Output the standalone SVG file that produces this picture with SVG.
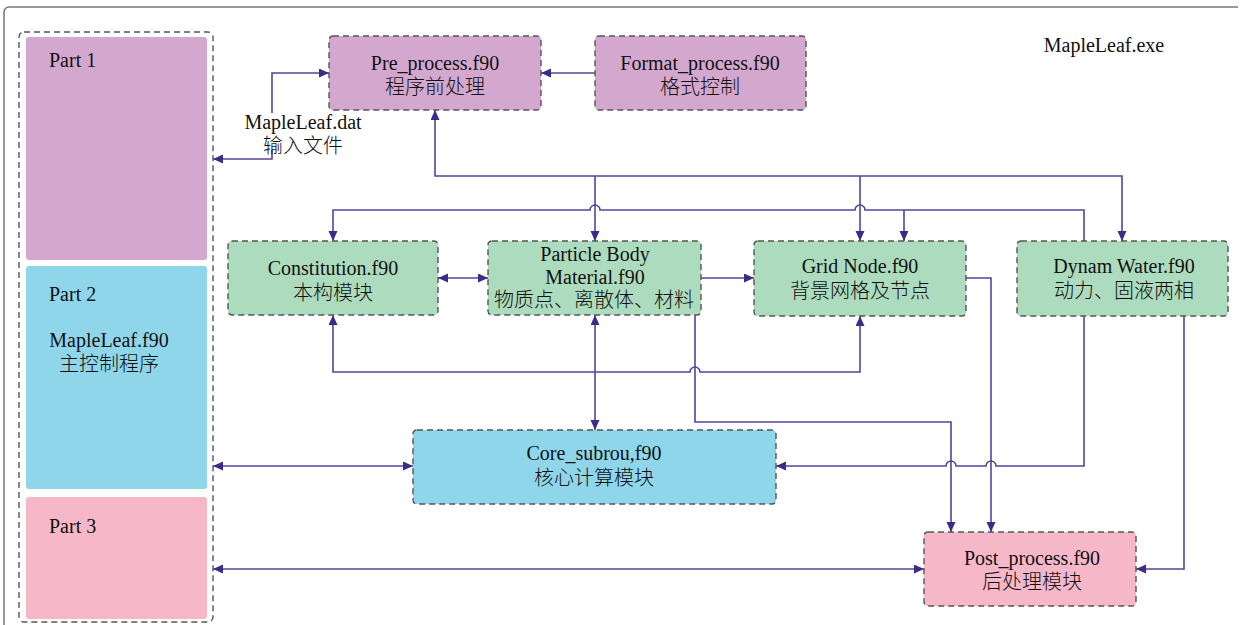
<svg xmlns="http://www.w3.org/2000/svg" width="1244" height="625" viewBox="0 0 1244 625">
<style>
  text { font-family: "Liberation Serif", "Noto Sans CJK SC", serif; font-size: 20px; fill: #111; }
  .c { text-anchor: middle; }
  .cjk { font-size: 20px; font-weight: 300; }
  .node { stroke: #555; stroke-width: 1.4; stroke-dasharray: 6 4; }
  .pur { fill: #D4A8CE; }
  .grn { fill: #ADDBBD; }
  .blu { fill: #8FD6EB; }
  .pnk { fill: #F6B8C9; }
  .ln { fill: none; stroke: #54449C; stroke-width: 1.6; }
</style>
<defs>
  <marker id="ah" markerUnits="userSpaceOnUse" markerWidth="11" markerHeight="10" refX="10" refY="4.5" orient="auto-start-reverse">
    <path d="M0,0 L10,4.5 L0,9 z" fill="#3D2B89"/>
  </marker>
</defs>
<rect width="1244" height="625" fill="#fff"/>
<path d="M4,625 V12 A5,5 0 0 1 9,7 H1238" fill="none" stroke="#777" stroke-width="1.5"/>

<g id="main-program">
  <rect x="19" y="32" width="194" height="590" rx="5" fill="none" class="node"/>
  <g id="part1">
    <rect x="26" y="37" width="181" height="223" rx="3" class="pur"/>
    <text x="49" y="67">Part 1</text>
  </g>
  <g id="part2">
    <rect x="26" y="266" width="181" height="223" rx="3" class="blu"/>
    <text x="49" y="301">Part 2</text>
    <text x="109" y="347" class="c">MapleLeaf.f90</text>
    <text x="109" y="371" class="c cjk">主控制程序</text>
  </g>
  <g id="part3">
    <rect x="26" y="497" width="181" height="122" rx="3" class="pnk"/>
    <text x="49" y="533">Part 3</text>
  </g>
</g>

<text x="1104" y="52" class="c">MapleLeaf.exe</text>

<g id="connectors">
  <path class="ln" d="M272,113 V73 H329" marker-end="url(#ah)"/>
  <path class="ln" d="M272,150 V159 H213" marker-end="url(#ah)"/>
  <path class="ln" d="M595,73 H541" marker-end="url(#ah)"/>
  <path class="ln" d="M435,110 V176 H1122 V241" marker-start="url(#ah)" marker-end="url(#ah)"/>
  <path class="ln" d="M595,176 V241" marker-end="url(#ah)"/>
  <path class="ln" d="M860,176 V241" marker-end="url(#ah)"/>
  <path class="ln" d="M1084,241 V210 H865 A5,5 0 0 0 855,210 H600 A5,5 0 0 0 590,210 H333 V241" marker-end="url(#ah)"/>
  <path class="ln" d="M904,210 V241" marker-end="url(#ah)"/>
  <path class="ln" d="M438,278 H488" marker-start="url(#ah)" marker-end="url(#ah)"/>
  <path class="ln" d="M701,278 H754" marker-end="url(#ah)"/>
  <path class="ln" d="M333,315 V372 H690 A5,5 0 0 1 700,372 H860 V316" marker-start="url(#ah)" marker-end="url(#ah)"/>
  <path class="ln" d="M595,315 V430" marker-start="url(#ah)" marker-end="url(#ah)"/>
  <path class="ln" d="M695,315 V422 H951 V532" marker-end="url(#ah)"/>
  <path class="ln" d="M966,278 H991 V532" marker-end="url(#ah)"/>
  <path class="ln" d="M1084,316 V466 H996 A5,5 0 0 0 986,466 H956 A5,5 0 0 0 946,466 H776" marker-end="url(#ah)"/>
  <path class="ln" d="M1184,316 V569 H1136" marker-end="url(#ah)"/>
  <path class="ln" d="M213,466 H413" marker-start="url(#ah)" marker-end="url(#ah)"/>
  <path class="ln" d="M213,569 H924" marker-start="url(#ah)" marker-end="url(#ah)"/>
</g>

<text x="303" y="129" class="c">MapleLeaf.dat</text>
<text x="303" y="153" class="c cjk">输入文件</text>

<g id="pre-process">
  <rect x="329" y="36" width="212" height="74" rx="4" class="node pur"/>
  <text x="435" y="70" class="c">Pre_process.f90</text>
  <text x="435" y="94" class="c cjk">程序前处理</text>
</g>
<g id="format-process">
  <rect x="595" y="36" width="211" height="74" rx="4" class="node pur"/>
  <text x="700" y="70" class="c">Format_process.f90</text>
  <text x="700" y="94" class="c cjk">格式控制</text>
</g>
<g id="constitution">
  <rect x="228" y="241" width="210" height="74" rx="4" class="node grn"/>
  <text x="333" y="275" class="c">Constitution.f90</text>
  <text x="333" y="300" class="c cjk">本构模块</text>
</g>
<g id="particle-body">
  <rect x="488" y="241" width="213" height="74" rx="4" class="node grn"/>
  <text x="595" y="261" class="c">Particle Body</text>
  <text x="595" y="284" class="c">Material.f90</text>
  <text x="594" y="307" class="c cjk">物质点、离散体、材料</text>
</g>
<g id="grid-node">
  <rect x="754" y="241" width="212" height="75" rx="4" class="node grn"/>
  <text x="860" y="273" class="c">Grid Node.f90</text>
  <text x="860" y="298" class="c cjk">背景网格及节点</text>
</g>
<g id="dynam-water">
  <rect x="1017" y="241" width="211" height="75" rx="4" class="node grn"/>
  <text x="1124" y="273" class="c">Dynam Water.f90</text>
  <text x="1124" y="298" class="c cjk">动力、固液两相</text>
</g>
<g id="core-subrou">
  <rect x="413" y="430" width="363" height="74" rx="4" class="node blu"/>
  <text x="594" y="460" class="c">Core_subrou,f90</text>
  <text x="594" y="485" class="c cjk">核心计算模块</text>
</g>
<g id="post-process">
  <rect x="924" y="532" width="212" height="74" rx="4" class="node pnk"/>
  <text x="1032" y="565" class="c">Post_process.f90</text>
  <text x="1032" y="589" class="c cjk">后处理模块</text>
</g>
</svg>
